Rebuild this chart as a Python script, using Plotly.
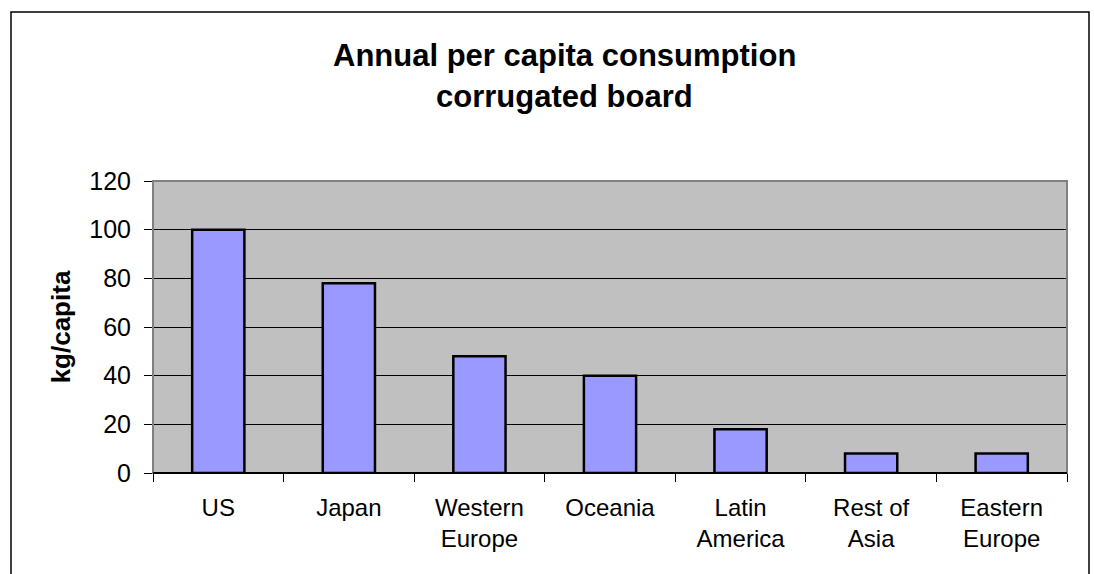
import plotly.graph_objects as go

categories = ["US", "Japan", "Western<br>Europe", "Oceania", "Latin<br>America", "Rest of<br>Asia", "Eastern<br>Europe"]
values = [100, 78, 48, 40, 18, 8, 8]
y_ticks = [0, 20, 40, 60, 80, 100, 120]
title_lines = ["Annual per capita consumption", "corrugated board"]
y_title = "kg/capita"

W, H = 1094, 574
L, R, T, B = 153, 27, 181, 101
pw, ph = W - L - R, H - T - B

def px_x(x):
    return (x - L) / pw

def px_y(y):
    return (H - B - y) / ph

fig = go.Figure(go.Bar(
    x=categories, y=values,
    marker=dict(color="#9999FF", line=dict(color="black", width=2.5)),
    width=0.4,
))

font = "Liberation Sans, Arial, sans-serif"

fig.update_layout(
    width=W, height=H,
    margin=dict(l=L, r=R, t=T, b=B),
    paper_bgcolor="white", plot_bgcolor="#C0C0C0",
    showlegend=False,
    font=dict(family=font, size=24, color="black"),
    xaxis=dict(
        type="category", tickson="boundaries", ticks="outside", ticklen=8,
        tickcolor="black", tickwidth=1, showgrid=False,
        tickfont=dict(size=24), ticklabelstandoff=18,
    ),
    yaxis=dict(
        range=[0, 120], tickvals=y_ticks, ticks="outside", ticklen=8,
        tickcolor="black", tickwidth=1, showgrid=True, gridcolor="black", gridwidth=1,
        zeroline=True, zerolinecolor="black", zerolinewidth=2,
        tickfont=dict(size=25), ticklabelstandoff=8,
        title=dict(text="<b>" + y_title + "</b>", font=dict(size=26), standoff=11),
    ),
    shapes=[
        dict(type="rect", xref="paper", yref="paper", x0=0, x1=1, y0=0, y1=1,
             line=dict(color="#808080", width=2), layer="above"),
        dict(type="rect", xref="paper", yref="paper",
             x0=px_x(11), x1=px_x(1089), y0=px_y(600), y1=px_y(12),
             line=dict(color="black", width=1.5), layer="below"),
        dict(type="line", xref="paper", yref="paper", x0=0, x1=1, y0=0, y1=0,
             line=dict(color="black", width=2), layer="above"),
    ],
    annotations=[
        dict(text="<b>" + title_lines[0] + "</b>", xref="paper", yref="paper",
             x=px_x(564), y=px_y(55), showarrow=False, font=dict(size=31),
             xanchor="center", yanchor="middle"),
        dict(text="<b>" + title_lines[1] + "</b>", xref="paper", yref="paper",
             x=px_x(564), y=px_y(97), showarrow=False, font=dict(size=31),
             xanchor="center", yanchor="middle"),
    ],
)

fig.write_html("out.html", config={"displayModeBar": False},
               post_script="document.body.style.margin='0';document.body.style.overflow='hidden';")
